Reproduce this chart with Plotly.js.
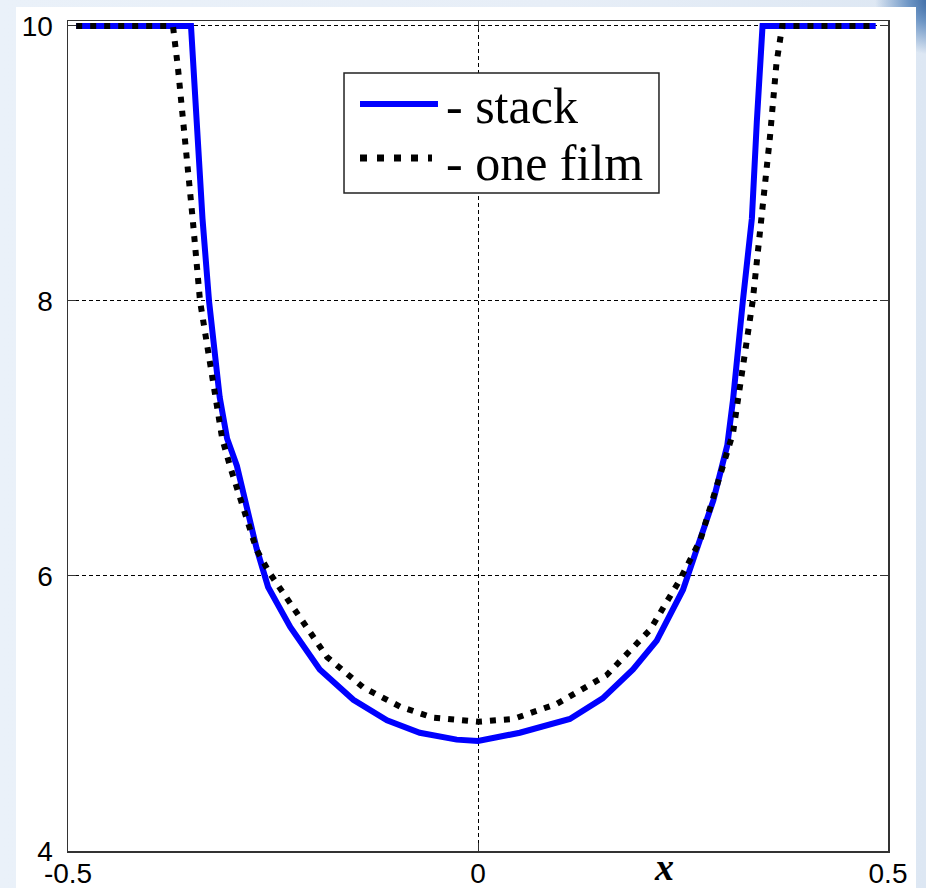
<!DOCTYPE html>
<html>
<head>
<meta charset="utf-8">
<script src="https://cdn.plot.ly/plotly-3.0.1.min.js"></script>
<style>
  html, body { margin: 0; padding: 0; width: 926px; height: 888px; overflow: hidden; }
  body {
    background:
      radial-gradient(ellipse 60px 55px at 935px 0px, #2f5f9c 0%, #6f97c6 45%, rgba(200,218,238,0) 100%),
      linear-gradient(90deg, #eaf1f9 0%, #e7eef7 60%, #dde7f3 100%);
  }
  #chart { position: absolute; left: 16px; top: 7px; width: 900px; height: 881px; background: #ffffff; }
</style>
</head>
<body>
<div id="chart"></div>
<script>
// Potential profile across the layer: multilayer stack vs. a single film
const stackX = [-0.49, -0.35, -0.343, -0.336, -0.328, -0.315, -0.306, -0.294, -0.270, -0.256,
                -0.229, -0.193, -0.152, -0.111, -0.071, -0.026, 0.0, 0.051, 0.112, 0.152,
                0.189, 0.218, 0.250, 0.267, 0.287, 0.304, 0.311, 0.323, 0.334, 0.340, 0.347, 0.485];
const stackY = [10, 10, 9.3, 8.6, 8.0, 7.3, 7.0, 6.8, 6.2, 5.92,
                5.63, 5.32, 5.10, 4.95, 4.86, 4.81, 4.80, 4.86, 4.96, 5.11,
                5.32, 5.53, 5.90, 6.21, 6.55, 6.95, 7.28, 8.0, 8.6, 9.3, 10, 10];

const filmX = [-0.49, -0.372, -0.366, -0.357, -0.348, -0.339, -0.312, -0.302, -0.270, -0.254,
               -0.221, -0.184, -0.140, -0.095, -0.055, -0.018, 0.0, 0.043, 0.096, 0.157,
               0.210, 0.246, 0.271, 0.291, 0.311, 0.335, 0.346, 0.356, 0.364, 0.371, 0.485];
const filmY = [10, 10, 9.7, 9.2, 8.6, 8.0, 7.0, 6.79, 6.19, 6.02,
               5.73, 5.41, 5.19, 5.05, 4.97, 4.95, 4.94, 4.96, 5.07, 5.28,
               5.61, 5.97, 6.26, 6.65, 7.04, 8.0, 8.6, 9.19, 9.73, 10, 10];

const seriesNames = ['- stack', '- one film'];
const xTicks = [-0.5, 0, 0.5];
const xTickText = ['-0.5', '0', '0.5'];
const yTicks = [4, 6, 8, 10];
const yTickText = ['4', '6', '8', '10'];

const stackLine = { color: '#0000ff', width: 6 };
const filmLine = { color: '#000000', width: 6, dash: '6px,8px' };

const traces = [
  { x: stackX, y: stackY, name: seriesNames[0], mode: 'lines', line: stackLine },
  { x: filmX, y: filmY, name: seriesNames[1], mode: 'lines', line: filmLine }
];

const axisCommon = {
  showline: true, linecolor: '#333333', linewidth: 1.5, mirror: 'ticks',
  ticks: 'inside', ticklen: 8, tickcolor: '#333333', tickwidth: 1,
  showgrid: true, gridcolor: '#000000', gridwidth: 1, griddash: '4px,3px',
  zeroline: false, tickmode: 'array',
  tickfont: { family: 'Liberation Sans, Arial, sans-serif', size: 28, color: '#000000' }
};

// Boxed key in the upper middle of the plot: frame, line samples, labels
const serifFont = 'Liberation Serif, Times New Roman, serif';
const keyBox = { x0: 0.3366, x1: 0.7207, y0: 0.7928, y1: 0.9373 };
const keyRows = [
  { y: 0.9000, textY: 0.8976, x1: 0.4512, line: { color: stackLine.color, width: 6 } },
  { y: 0.8349, textY: 0.8289, x1: 0.4439, line: { color: filmLine.color, width: 7, dash: '7px,10px' } }
];

const shapes = [{
  type: 'rect', xref: 'paper', yref: 'paper', layer: 'above',
  x0: keyBox.x0, x1: keyBox.x1, y0: keyBox.y0, y1: keyBox.y1,
  fillcolor: '#ffffff', line: { color: '#222222', width: 1.5 }
}].concat(keyRows.map(r => ({
  type: 'line', xref: 'paper', yref: 'paper', layer: 'above',
  x0: 0.3561, x1: r.x1, y0: r.y, y1: r.y, line: r.line
})));

const annotations = keyRows.map((r, i) => ({
  xref: 'paper', yref: 'paper', x: 0.459, y: r.textY,
  xanchor: 'left', yanchor: 'middle', showarrow: false,
  text: seriesNames[i],
  font: { family: serifFont, size: 50, color: '#000000' }
})).concat([{
  xref: 'paper', yref: 'paper', x: 0.727, y: -0.0193,
  xanchor: 'center', yanchor: 'middle', showarrow: false,
  text: '<b><i>x</i></b>',
  font: { family: serifFont, size: 38, color: '#000000' }
}]);

const layout = {
  width: 900, height: 881,
  margin: { l: 52, r: 28, t: 14, b: 37 },
  paper_bgcolor: '#ffffff', plot_bgcolor: '#ffffff',
  showlegend: false,
  xaxis: Object.assign({}, axisCommon, {
    range: [-0.5, 0.5], tickvals: xTicks, ticktext: xTickText, ticklabelstandoff: -3
  }),
  yaxis: Object.assign({}, axisCommon, {
    range: [4, 10.036], tickvals: yTicks, ticktext: yTickText, ticklabelstandoff: 8
  }),
  shapes: shapes,
  annotations: annotations
};

Plotly.newPlot('chart', traces, layout, { displayModeBar: false, staticPlot: true });
</script>
</body>
</html>
